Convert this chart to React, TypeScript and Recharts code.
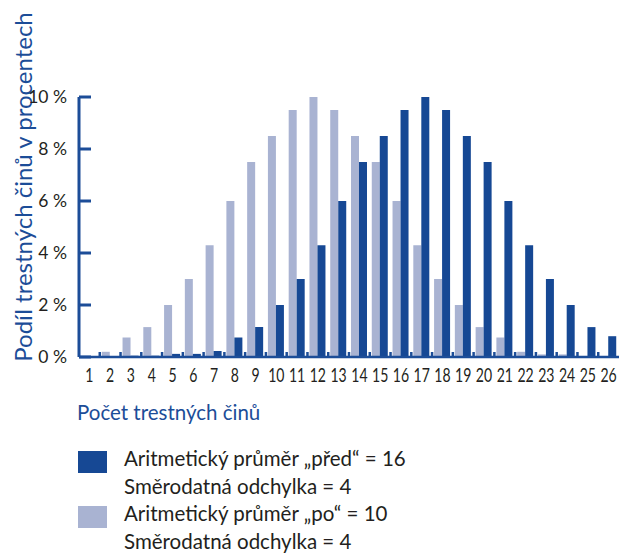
import React from 'react';
import { BarChart, Bar, XAxis, YAxis, Label } from 'recharts';

const categories = ['1','2','3','4','5','6','7','8','9','10','11','12','13','14','15','16','17','18','19','20','21','22','23','24','25','26'];
const poValues = [0, 0.2, 0.75, 1.15, 2, 3, 4.3, 6, 7.5, 8.5, 9.5, 10, 9.5, 8.5, 7.5, 6, 4.3, 3, 2, 1.15, 0.75, 0.2, 0.1, 0.1, 0, 0];
const predValues = [0, 0, 0.05, 0.05, 0.12, 0.12, 0.23, 0.75, 1.15, 2, 3, 4.3, 6, 7.5, 8.5, 9.5, 10, 9.5, 8.5, 7.5, 6, 4.3, 3, 2, 1.15, 0.8];
const yTicks = [0, 2, 4, 6, 8, 10];
const legendItems = [
  { key: 'pred', lines: ['Aritmetický průměr „před“ = 16', 'Směrodatná odchylka = 4'] },
  { key: 'po', lines: ['Aritmetický průměr „po“ = 10', 'Směrodatná odchylka = 4'] },
];

const DARK = '#164894';
const LIGHT = '#a9b3d2';
const AXIS = '#1c4d98';
const TEXT = '#231f20';
const FONT = 'Lato, "Noto Sans", sans-serif';

const data = categories.map((c, i) => ({ cat: c, po: poValues[i], pred: predValues[i] }));
const colorOf: Record<string, string> = { pred: DARK, po: LIGHT };

const YTick = (props: any) => {
  const { x, y, payload } = props;
  return (
    <g>
      <line x1={x} y1={y} x2={x + 12} y2={y} stroke={AXIS} strokeWidth={3} />
      <text x={x - 12} y={y} dy={6} textAnchor="end" fontSize={17.5} fill={TEXT} fontFamily={FONT}>
        {`${payload.value} %`}
      </text>
    </g>
  );
};

const XTick = (props: any) => {
  const { x, y, payload, index } = props;
  const off = payload && payload.offset ? payload.offset : 10.38;
  return (
    <g>
      {index > 0 && (
        <line x1={x - off} y1={y} x2={x - off} y2={y - 5} stroke={AXIS} strokeWidth={2.5} />
      )}
      <g transform={`translate(${x},${y + 25}) scale(0.72,1)`}>
        <text x={0} y={0} textAnchor="middle" fontSize={19.5} fill={TEXT} fontFamily={FONT}>
          {payload.value}
        </text>
      </g>
    </g>
  );
};

export default function App() {
  return (
    <div style={{ position: 'fixed', left: 0, top: 0, width: 620, height: 555, overflow: 'hidden', background: '#fff' }}>
      <BarChart
        width={620}
        height={555}
        data={data}
        margin={{ top: 97, right: 1, left: 19, bottom: 168 }}
        barGap={0}
        barSize={8}
      >
        <XAxis
          dataKey="cat"
          axisLine={{ stroke: AXIS, strokeWidth: 2.5 }}
          tickLine={false}
          tickSize={0}
          tickMargin={0}
          interval={0}
          height={30}
          tick={<XTick />}
        >
          <Label
            content={() => (
              <text x={77} y={420} fontSize={20.5} fill={AXIS} fontFamily={FONT}>
                Počet trestných činů
              </text>
            )}
          />
        </XAxis>
        <YAxis
          width={60}
          domain={[0, 10]}
          ticks={yTicks}
          axisLine={{ stroke: AXIS, strokeWidth: 3 }}
          tickLine={false}
          tickSize={0}
          tickMargin={0}
          tick={<YTick />}
        >
          <Label
            content={() => (
              <text
                x={32}
                y={187}
                transform="rotate(-90 32 187)"
                textAnchor="middle"
                fontSize={24}
                fill={AXIS}
                fontFamily={FONT}
              >
                Podíl trestných činů v procentech
              </text>
            )}
          />
        </YAxis>
        <Bar dataKey="po" fill={LIGHT} isAnimationActive={false} />
        <Bar dataKey="pred" fill={DARK} isAnimationActive={false} />
      </BarChart>
      <div
        style={{
          position: 'absolute',
          left: 78,
          top: 445,
          fontFamily: FONT,
          color: TEXT,
          fontSize: 20.5,
          lineHeight: '27.5px',
          whiteSpace: 'nowrap',
        }}
      >
        {legendItems.map((it) => (
          <div key={it.key} style={{ position: 'relative', paddingLeft: 46 }}>
            <div style={{ position: 'absolute', left: 0, top: 6, width: 29, height: 22, background: colorOf[it.key] }} />
            {it.lines.map((l) => (
              <div key={l}>{l}</div>
            ))}
          </div>
        ))}
      </div>
    </div>
  );
}
